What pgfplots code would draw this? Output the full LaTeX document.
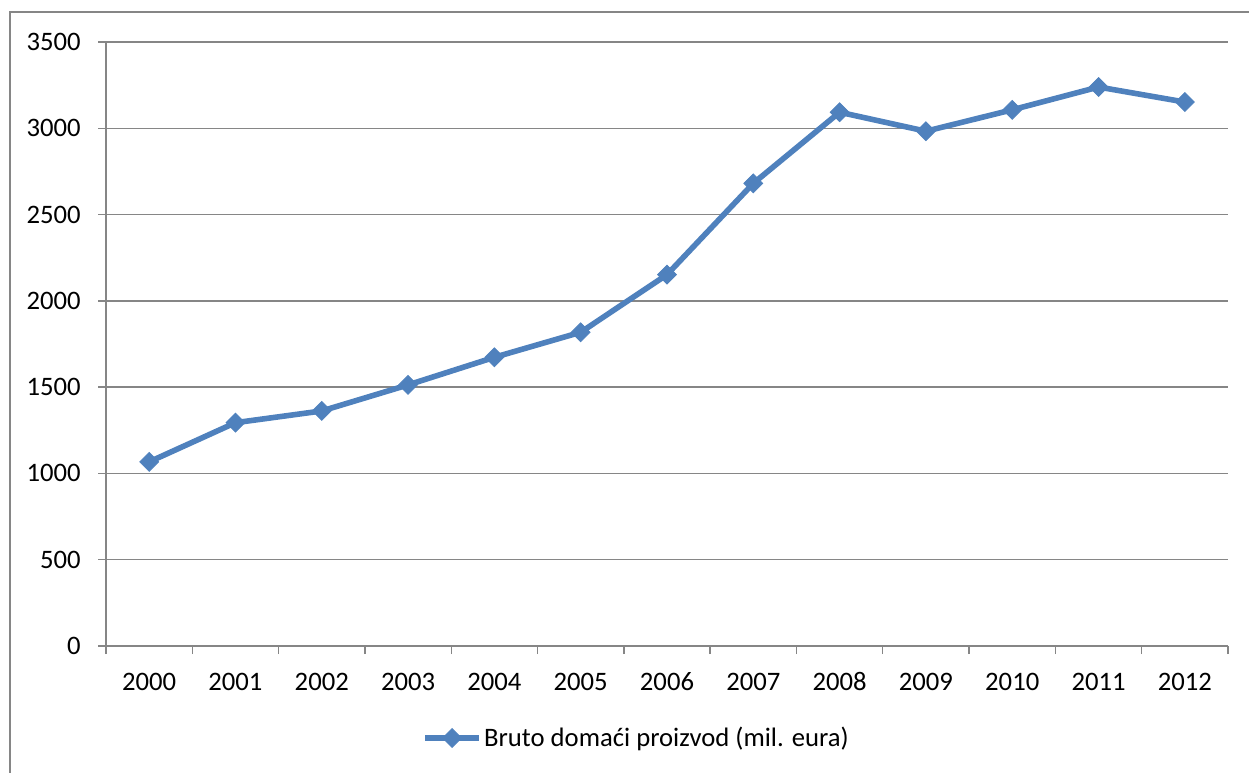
\documentclass[border=0pt]{standalone}
\usepackage{pgfplots}
\pgfplotsset{compat=1.18}
\usepackage{fontspec}
\setmainfont{Carlito}

\definecolor{gdpblue}{HTML}{4F81BD}
\definecolor{gridgray}{HTML}{868686}

\begin{document}
\begin{tikzpicture}
  % frame of the chart area (runs past the cropped right and bottom edges)
  \draw[gridgray, line width=1.2pt] (7.5pt,-9pt) rectangle (960pt,-600pt);
  \begin{axis}[
    at={(79.5pt,-484.5pt)}, anchor=south west,
    scale only axis,
    width=841.5pt, height=453pt,
    font=\fontsize{20pt}{24pt}\selectfont,
    /pgf/number format/assume math mode=true,
    xmin=-0.5, xmax=12.5,
    ymin=0, ymax=3500,
    xtick={0,...,12},
    xticklabels={2000,2001,2002,2003,2004,2005,2006,2007,2008,2009,2010,2011,2012},
    minor xtick={-0.5,0.5,...,12.5},
    ytick={0,500,...,3500},
    axis x line*=bottom,
    axis y line*=left,
    axis line style={gridgray, line width=1pt, -},
    ymajorgrids,
    grid style={gridgray, line width=1pt},
    tick align=outside,
    major x tick style={draw=none},
    minor tick length=6pt,
    major tick length=6pt,
    tick style={gridgray, line width=1pt},
    yticklabel style={anchor=east, inner sep=0pt, xshift=-12.75pt},
    xticklabel style={anchor=base, inner sep=0pt, yshift=-27.4pt},
    scaled y ticks=false,
    yticklabel={\pgfmathprintnumber[fixed, 1000 sep={}]{\tick}},
    legend style={at={(0.4733,-0.1523)}, anchor=center, draw=none,
      fill=none, font=\fontsize{20pt}{24pt}\selectfont,
      /tikz/every even column/.append style={column sep=0pt}},
    legend cell align=left,
    legend image code/.code={%
      \draw[#1, mark repeat=2, mark phase=2]
        plot coordinates {(0pt,0pt) (20pt,0pt) (40pt,0pt)};},
  ]
    \addplot[gdpblue, line width=4.2pt,
      mark=square*, mark size=5pt,
      mark options={solid, rotate=45, line width=0.6pt, fill=gdpblue}]
      coordinates {
        (0,1067) (1,1294) (2,1362) (3,1513) (4,1673) (5,1818) (6,2152)
        (7,2681) (8,3093) (9,2983) (10,3107) (11,3239) (12,3152)
      };
    \addlegendentry{Bruto domaći proizvod (mil. eura)}
  \end{axis}
  \pgfresetboundingbox
  \useasboundingbox (0pt,0pt) rectangle (936.75pt,-579.75pt);
\end{tikzpicture}
\end{document}
